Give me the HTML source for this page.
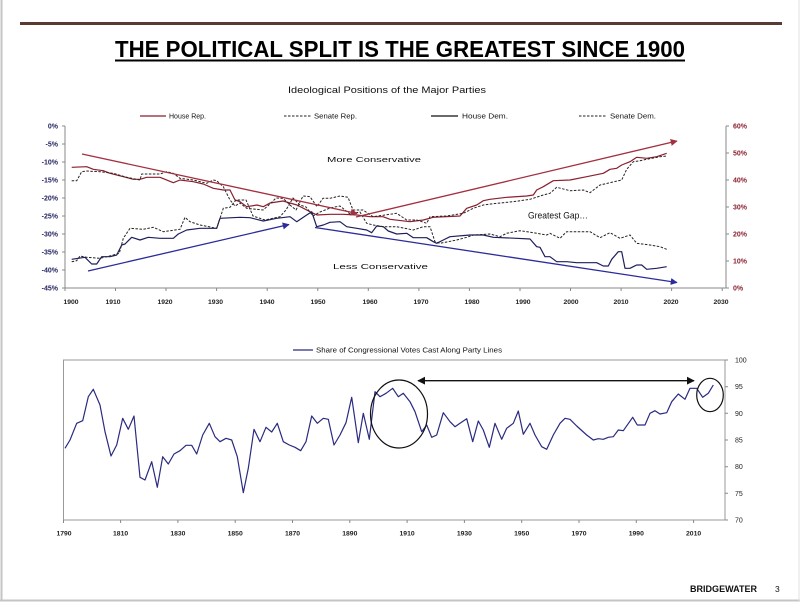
<!DOCTYPE html>
<html>
<head>
<meta charset="utf-8">
<style>
  html,body{margin:0;padding:0;background:#fff;}
  svg{display:block;}
  text{font-family:"Liberation Sans",Arial,sans-serif;}
</style>
</head>
<body>
<svg width="800" height="602" viewBox="0 0 800 602" xmlns="http://www.w3.org/2000/svg">
  <defs>
    <marker id="ar" viewBox="0 0 10 10" refX="9" refY="5" markerWidth="7" markerHeight="7" orient="auto" markerUnits="userSpaceOnUse">
      <path d="M0,0 L10,5 L0,10 z" fill="#a3303f"/>
    </marker>
    <marker id="ab" viewBox="0 0 10 10" refX="9" refY="5" markerWidth="7" markerHeight="7" orient="auto" markerUnits="userSpaceOnUse">
      <path d="M0,0 L10,5 L0,10 z" fill="#2b2b9a"/>
    </marker>
    <marker id="ak" viewBox="0 0 10 10" refX="9" refY="5" markerWidth="8" markerHeight="8" orient="auto-start-reverse" markerUnits="userSpaceOnUse">
      <path d="M0,0 L10,5 L0,10 z" fill="#111"/>
    </marker>
  </defs>

  <!-- slide frame -->
  <rect x="0" y="0" width="800" height="602" fill="#fff"/>
  <line x1="1.5" y1="0" x2="1.5" y2="601" stroke="#c4c4c4" stroke-width="2"/>
  <line x1="0" y1="600.5" x2="800" y2="600.5" stroke="#c4c4c4" stroke-width="2"/>
  <line x1="799" y1="0" x2="799" y2="601" stroke="#e2e2e2" stroke-width="1"/>

  <!-- header bar -->
  <rect x="20" y="22" width="762" height="3" fill="#5a3b34"/>

  <!-- title -->
  <text x="115" y="57" font-size="23" font-weight="bold" textLength="570" lengthAdjust="spacingAndGlyphs" fill="#000">THE POLITICAL SPLIT IS THE GREATEST SINCE 1900</text>
  <rect x="115" y="59.5" width="570" height="2" fill="#000"/>

  <!-- ===== TOP CHART ===== -->
  <text x="288" y="93" font-size="9" textLength="198" lengthAdjust="spacingAndGlyphs" fill="#111">Ideological Positions of the Major Parties</text>

  <!-- legend -->
  <line x1="140" y1="116" x2="166" y2="116" stroke="#8b1f2e" stroke-width="1.2"/>
  <text x="169" y="118.5" font-size="7" textLength="37" lengthAdjust="spacingAndGlyphs" fill="#111">House Rep.</text>
  <line x1="284" y1="116" x2="311" y2="116" stroke="#222" stroke-width="1" stroke-dasharray="2.5,1.5"/>
  <text x="314" y="118.5" font-size="7" textLength="43" lengthAdjust="spacingAndGlyphs" fill="#111">Senate Rep.</text>
  <line x1="431" y1="116" x2="458" y2="116" stroke="#111" stroke-width="1.2"/>
  <text x="462" y="118.5" font-size="7" textLength="46" lengthAdjust="spacingAndGlyphs" fill="#111">House Dem.</text>
  <line x1="579" y1="116" x2="607" y2="116" stroke="#222" stroke-width="1" stroke-dasharray="2.5,1.5"/>
  <text x="610" y="118.5" font-size="7" textLength="46" lengthAdjust="spacingAndGlyphs" fill="#111">Senate Dem.</text>

  <!-- axes -->
  <g stroke="#888" stroke-width="1" fill="none">
    <line x1="65" y1="126" x2="65" y2="288"/>
    <line x1="726" y1="126" x2="726" y2="288"/>
    <line x1="65" y1="288" x2="726" y2="288"/>
    <!-- left ticks -->
    <path d="M62,126H65M62,144H65M62,162H65M62,180H65M62,198H65M62,216H65M62,234H65M62,252H65M62,270H65M62,288H65"/>
    <!-- right ticks -->
    <path d="M726,126H729M726,153H729M726,180H729M726,207H729M726,234H729M726,261H729M726,288H729"/>
    <!-- bottom ticks -->
    <path d="M65,288V291M115.5,288V291M166,288V291M216.6,288V291M267.2,288V291M317.8,288V291M368.3,288V291M418.9,288V291M469.4,288V291M520,288V291M570.5,288V291M621.1,288V291M671.6,288V291M722.2,288V291"/>
  </g>

  <!-- left labels -->
  <g font-size="7" font-weight="bold" fill="#1f1f5e" text-anchor="end">
    <text x="58" y="128.5">0%</text>
    <text x="58" y="146.5">-5%</text>
    <text x="58" y="164.5">-10%</text>
    <text x="58" y="182.5">-15%</text>
    <text x="58" y="200.5">-20%</text>
    <text x="58" y="218.5">-25%</text>
    <text x="58" y="236.5">-30%</text>
    <text x="58" y="254.5">-35%</text>
    <text x="58" y="272.5">-40%</text>
    <text x="58" y="290.5">-45%</text>
  </g>
  <!-- right labels -->
  <g font-size="7" font-weight="bold" fill="#8b1f2e">
    <text x="733" y="128.5">60%</text>
    <text x="733" y="155.5">50%</text>
    <text x="733" y="182.5">40%</text>
    <text x="733" y="209.5">30%</text>
    <text x="733" y="236.5">20%</text>
    <text x="733" y="263.5">10%</text>
    <text x="733" y="290.5">0%</text>
  </g>
  <!-- x labels -->
  <g font-size="6.8" font-weight="bold" fill="#222" text-anchor="middle">
    <text x="71" y="304">1900</text>
    <text x="113" y="304">1910</text>
    <text x="165" y="304">1920</text>
    <text x="215.5" y="304">1930</text>
    <text x="267" y="304">1940</text>
    <text x="318" y="304">1950</text>
    <text x="370" y="304">1960</text>
    <text x="421" y="304">1970</text>
    <text x="472" y="304">1980</text>
    <text x="523" y="304">1990</text>
    <text x="571" y="304">2000</text>
    <text x="621" y="304">2010</text>
    <text x="671" y="304">2020</text>
    <text x="721" y="304">2030</text>
  </g>

  <!-- annotations -->
  <text x="327" y="162" font-size="7" textLength="94" lengthAdjust="spacingAndGlyphs" fill="#111">More Conservative</text>
  <text x="333" y="269" font-size="7" textLength="95" lengthAdjust="spacingAndGlyphs" fill="#111">Less Conservative</text>
  <text x="528" y="218.5" font-size="9.5" textLength="60" lengthAdjust="spacingAndGlyphs" fill="#111">Greatest Gap…</text>

  <!-- series -->
  <g fill="none" stroke-linejoin="round">
    <!-- House Rep -->
    <polyline stroke="#8b1f2e" stroke-width="1.2" points="71.7,167.3 86.7,166.7 93.3,169.3 103.3,170.7 110,173.3 123.3,176.7 133.3,179.3 140,179.3 146.7,177.3 160,177.3 173.3,182.7 180,180 193.3,181.7 203.3,184 213.3,188.3 223.3,190 230,190 235,200 240,201.7 246.7,206.7 257,205 263.3,206.7 270,203 283,201 297,205 310,211.7 317,215 330,214.3 343,214.3 357,215 370,216.7 383,216.7 390,219.3 410,221.7 423.3,220 433.3,217.3 460,216 466.7,208.3 476.7,205 483.3,200.7 490,199.3 506.7,197.3 526.7,196 533.3,195 536.7,190 543.3,186.7 553.3,180.7 570,180 586.7,176.7 603.3,173.3 610,169.3 616.7,168.3 621.7,165 630,161.7 636.7,157.3 646.7,158.3 656.7,156.7 666.7,153.3"/>
    <!-- Senate Rep -->
    <polyline stroke="#2a2020" stroke-width="1" stroke-dasharray="2.5,1.5" points="71.7,180.7 76.7,180.7 81.7,171.7 86.7,171 100,171.7 113.3,173.3 126.7,177.3 140,180 141.7,174 160,174 166.7,171.7 173.3,173.3 180,178.3 193.3,180 206.7,183.3 213.3,180 216.7,180.7 223.3,186.7 230,200 235,206 240,203 246.7,208.3 263,210 270,204 276,198 283,198.3 290,205 296,210 303,196 310,196.7 317,206.7 323,198.3 330,198.3 340,196 348,197.3 353,210 363,210 373,216.7 396.7,213.3 406.7,220 416.7,220 426.7,223.3 430,216.7 446.7,216 463.3,213.3 473.3,208.3 483.3,205 496.7,203.3 513.3,201.7 530,199.3 543.3,195 550,193.3 556.7,187.3 570,190.7 583.3,190 590,192.7 600,185 610,182.7 621.7,180 626.7,169.3 633.3,161.7 640,160.7 646.7,159.3 660,156.7 666.7,156"/>
    <!-- House Dem -->
    <polyline stroke="#1e1e5e" stroke-width="1.2" points="71.7,259.3 78.3,258.3 85,257.3 91.7,264 96.7,264 101.7,256.7 110,256.7 116.7,255 121.7,245 125,244 131.7,237.3 140,240 148.3,237.3 160,238.3 173.3,238.3 178.3,234 186.7,230 200,228.3 216.7,228.3 220,218.3 240,217.3 250,217.7 263.3,221 276.7,218.3 290,216.7 296.7,221.7 306.7,215 311.7,211.7 316.7,226.7 323.3,225 330,222.3 340,221.7 346.7,226.7 356.7,228.3 366.7,230 371.7,232.7 376.7,226 383.3,226.7 388.3,231 396.7,234 406.7,233.3 413.3,237.7 426.7,237.7 433.3,241.7 436.7,243.3 443.3,240 450,236.7 470,235 483.3,235 493.3,237.3 516.7,238.3 530,239 536.7,246.7 540,247.3 545,256.7 550,256.7 556.7,261.7 566.7,261.7 576.7,262.7 596.7,262.7 603.3,266 608.3,266 611.7,259.3 618.3,251.7 621.7,251.7 625,268.3 630,268.3 636.7,265 641.7,265 646.7,269.3 656.7,268.3 666.7,266.7"/>
    <!-- Senate Dem -->
    <polyline stroke="#222" stroke-width="1" stroke-dasharray="2.5,1.5" points="71.7,261.7 76.7,260.7 80,256 86.7,257.3 100,258.3 106.7,256.7 113.3,255 119.3,253.3 123.3,238.3 130,228.3 143.3,229.3 153.3,227.3 163.3,231.7 180,229.3 185,217.3 190,221.7 200,225 216.7,228.3 223.3,208.3 230,207.3 236,200 246,200 253,216 265,220 280,216.7 286,210 293,198 300,205 306,207 313,216 320,212 330,208 340,206 350,214 360,212 366.7,223.3 373.3,225 383.3,226.7 396.7,226.7 413.3,230 423.3,226.7 430,226.7 435,241.7 440,243.3 456.7,240 466.7,237.3 473.3,235 490,234 500,236.7 506.7,233.3 520,230.7 533.3,232.7 546.7,235 550,233.3 560,238.3 566.7,231.7 576.7,231.7 590,231.7 600,237.7 610,232.7 620,238.3 630,235 636.7,243.3 650,245 660,246.7 666.7,249.3"/>
  </g>

  <!-- trend arrows -->
  <line x1="82" y1="154" x2="357" y2="213.5" stroke="#a3303f" stroke-width="1.3" marker-end="url(#ar)"/>
  <line x1="356" y1="217" x2="677" y2="141" stroke="#a3303f" stroke-width="1.3" marker-end="url(#ar)"/>
  <line x1="88" y1="271" x2="289" y2="224.5" stroke="#2b2b9a" stroke-width="1.3" marker-end="url(#ab)"/>
  <line x1="315" y1="227.5" x2="677" y2="282.5" stroke="#2b2b9a" stroke-width="1.3" marker-end="url(#ab)"/>

  <!-- ===== BOTTOM CHART ===== -->
  <line x1="293" y1="350" x2="313" y2="350" stroke="#2a2a80" stroke-width="1.3"/>
  <text x="316" y="352.5" font-size="7" textLength="186" lengthAdjust="spacingAndGlyphs" fill="#111">Share of Congressional Votes Cast Along Party Lines</text>

  <rect x="63.5" y="360" width="661.5" height="160" fill="none" stroke="#9a9a9a" stroke-width="1"/>
  <g stroke="#888" stroke-width="1" fill="none">
    <path d="M725,360H728M725,386.7H728M725,413.3H728M725,440H728M725,466.7H728M725,493.3H728M725,520H728"/>
    <path d="M63.5,520V523M120.6,520V523M177.9,520V523M235.2,520V523M292.5,520V523M349.8,520V523M407.1,520V523M464.4,520V523M521.7,520V523M579,520V523M636.3,520V523M693.6,520V523"/>
  </g>
  <g font-size="7" fill="#222">
    <text x="735" y="362.5">100</text>
    <text x="735" y="389.2">95</text>
    <text x="735" y="415.8">90</text>
    <text x="735" y="442.5">85</text>
    <text x="735" y="469.2">80</text>
    <text x="735" y="495.8">75</text>
    <text x="735" y="522.5">70</text>
  </g>
  <g font-size="6.8" font-weight="bold" fill="#222" text-anchor="middle">
    <text x="64" y="535.5">1790</text>
    <text x="120.6" y="535.5">1810</text>
    <text x="177.9" y="535.5">1830</text>
    <text x="235.2" y="535.5">1850</text>
    <text x="292.5" y="535.5">1870</text>
    <text x="349.8" y="535.5">1890</text>
    <text x="407.1" y="535.5">1910</text>
    <text x="464.4" y="535.5">1930</text>
    <text x="521.7" y="535.5">1950</text>
    <text x="579" y="535.5">1970</text>
    <text x="636.3" y="535.5">1990</text>
    <text x="693.6" y="535.5">2010</text>
  </g>

  <polyline fill="none" stroke="#2a2a80" stroke-width="1.2" stroke-linejoin="round" points="65,448.3 70,440 76.7,423.3 82.7,420.7 88.3,396.7 93.3,389.3 100,405 105,431.7 111,456 116.7,445 122.7,418.3 128.3,429.3 134,416 140,477.3 145,480 151.7,461.7 157.3,487.3 162.7,456.7 168.3,464 174,454 180,450.7 186,445.3 191.7,445.3 196.7,454 202.7,435 209.3,423.3 215,436.7 220,441.7 226,438.3 231.7,440 237.3,456.7 243.3,492.7 248.3,468.3 254,429.3 260,441.7 266,427.3 271.7,432 277.3,423.3 283.3,441.7 289.3,445 295,447.3 300.7,450.7 306,441.7 311.7,416 317.3,423.3 323.3,418.3 328.3,419.3 334,445 340,435 346,422.7 351.7,397.3 358.3,442.7 363.3,413.3 369.3,439.3 375,391.7 380,396.7 386,393.3 392.7,388.3 398.3,396.7 403.3,393.3 410,401.7 415,411.7 421.7,431.7 426.7,425 431.7,437.3 436.7,435 443.3,412.7 450,421.7 455,426.7 460,423.3 466.7,418.7 472.7,441.7 478.3,421 483.3,430 489.3,447.3 495,423.3 501.7,439.3 506.7,428.3 513.3,423.3 518.3,411 523.3,434.3 530,423.3 535,435 541.7,446.7 546.7,449.3 553.3,435 560,423.3 565,418.3 570,419.3 576.7,426 586.7,435 593.3,440 598.3,438.7 603.3,439.3 608.3,437.3 613.3,436.7 618.3,430 623.3,430.7 632.7,417.3 637.3,425 645,425 650,413.3 655,410.7 660,414 666.7,412.7 671.7,401.7 678.3,394 685,399.3 690,388.3 696.7,388.3 702.7,397.3 708.3,393.3 713.3,385"/>

  <!-- circles & double arrow -->
  <ellipse cx="399" cy="414" rx="28.5" ry="34" fill="none" stroke="#111" stroke-width="1.2"/>
  <ellipse cx="710" cy="395" rx="13.3" ry="16.7" fill="none" stroke="#111" stroke-width="1.2"/>
  <line x1="418" y1="380.7" x2="694" y2="380.7" stroke="#111" stroke-width="1.3" marker-start="url(#ak)" marker-end="url(#ak)"/>

  <!-- footer -->
  <text x="690" y="592" font-size="9" font-weight="bold" textLength="67" lengthAdjust="spacingAndGlyphs" fill="#111">BRIDGEWATER</text>
  <text x="775" y="592" font-size="8.5" fill="#111">3</text>
</svg>
</body>
</html>
